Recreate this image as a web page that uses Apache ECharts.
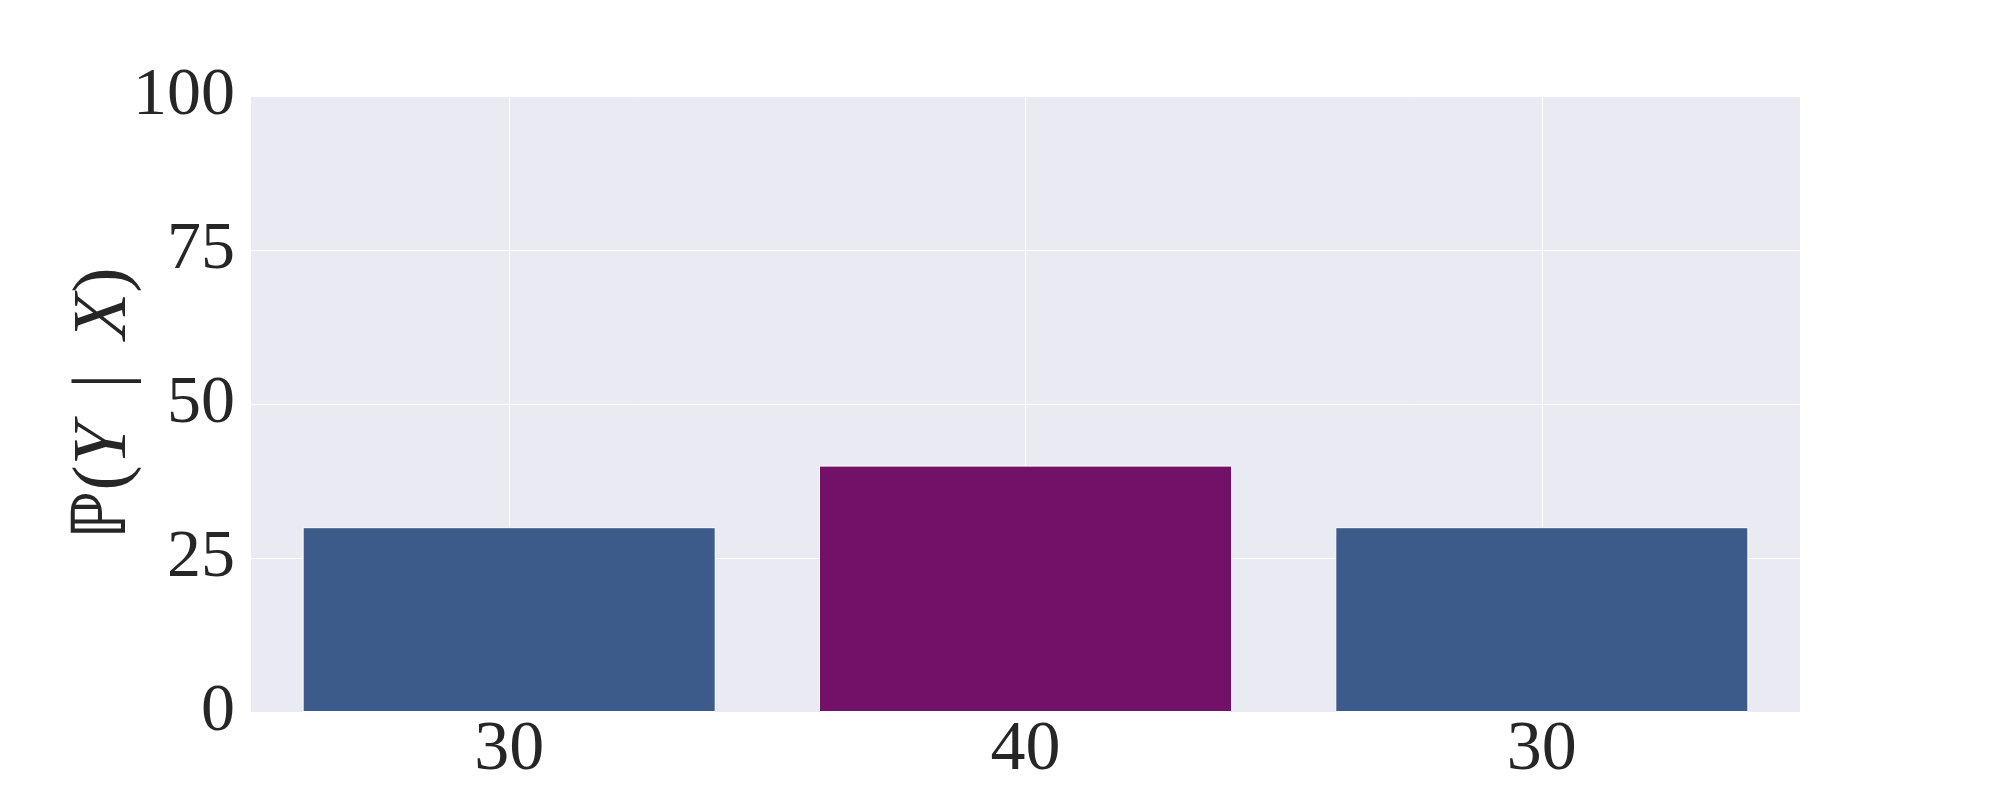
<!DOCTYPE html>
<html>
<head>
<meta charset="utf-8">
<script src="https://cdn.jsdelivr.net/npm/echarts@6/dist/echarts.min.js"></script>
<style>
html,body{margin:0;padding:0;background:#fff;}
#chart{width:2000px;height:800px;}
</style>
</head>
<body>
<div id="chart"></div>
<script>
const categories = ['30', '40', '30'];
const values = [30, 40, 30];
const barColors = ['#3c5b8a', '#731169', '#3c5b8a'];
const yTicks = [0, 25, 50, 75, 100];
// half-step helper slots so that grid lines fall on category centres
const halfSlots = ['a', 'b', 'c', 'd', 'e', 'f'];

const chart = echarts.init(document.getElementById('chart'));
const font = 'Liberation Serif';
chart.setOption({
  animation: false,
  backgroundColor: '#ffffff',
  grid: {left: 251, right: 200, top: 96, bottom: 88, backgroundColor: '#eaeaf2', show: true, borderWidth: 0},
  xAxis: [{
    type: 'category',
    data: categories,
    boundaryGap: true,
    axisLine: {show: false},
    axisTick: {show: false},
    splitLine: {show: false},
    axisLabel: {fontFamily: font, fontSize: 70, color: '#262626', margin: 4, interval: 0}
  }, {
    type: 'category',
    data: halfSlots,
    boundaryGap: true,
    position: 'bottom',
    axisLine: {show: false},
    axisTick: {show: false},
    axisLabel: {show: false},
    splitLine: {show: true, interval: function (i) { return i % 2 === 1; }, lineStyle: {color: '#ffffff', width: 1}}
  }],
  yAxis: {
    type: 'value',
    min: yTicks[0],
    max: yTicks[yTicks.length - 1],
    interval: 25,
    axisLine: {show: false},
    axisTick: {show: false},
    splitLine: {show: true, lineStyle: {color: '#ffffff', width: 1}},
    axisLabel: {fontFamily: font, fontSize: 68, color: '#262626', margin: 16},
    name: '{n|ℙ(}{i|Y}{n| \u2009|\u2009 }{i|X}{n|)}',
    nameLocation: 'middle',
    nameRotate: 90,
    nameGap: 108,
    nameMoveOverlap: false,
    nameTextStyle: {
      rich: {
        n: {fontFamily: font, fontSize: 76, color: '#262626'},
        i: {fontFamily: font, fontSize: 76, fontStyle: 'italic', color: '#262626'}
      }
    }
  },
  series: [{
    type: 'bar',
    xAxisIndex: 0,
    barWidth: '80%',
    data: values.map((v, i) => ({value: v, itemStyle: {color: barColors[i]}})),
    itemStyle: {borderColor: '#ffffff', borderWidth: 1}
  }]
});
</script>
</body>
</html>
